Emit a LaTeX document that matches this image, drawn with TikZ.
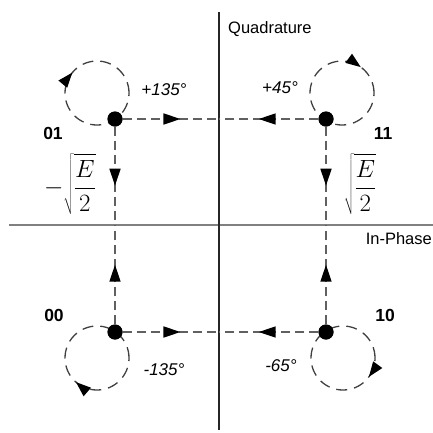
\documentclass[tikz,border=0pt]{standalone}
\usepackage{fontspec}
\setsansfont{Liberation Sans}
\usetikzlibrary{arrows.meta,decorations.markings}
\definecolor{axisgray}{HTML}{808080}
\definecolor{dashgray}{HTML}{606060}
\definecolor{loopgray}{HTML}{404040}
\tikzset{
  dotnode/.style={circle,fill=black,minimum size=15pt,inner sep=0pt},
  dline/.style={draw=dashgray,line width=1.6pt,dash pattern=on 9pt off 5pt,
    postaction={decorate},
    decoration={markings,mark=at position 0.6 with {\arrow[black]{Triangle[length=17pt,width=11pt]}}}},
  loopline/.style={draw=loopgray,line width=1.3pt,dash pattern=on 11pt off 7pt},
  lbl/.style={font=\sffamily\fontsize{16.5}{19}\selectfont,inner sep=0pt},
  ang/.style={font=\sffamily\itshape\fontsize{17}{20}\selectfont,inner sep=0pt},
  code/.style={font=\sffamily\bfseries\fontsize{17.5}{20}\selectfont,inner sep=0pt},
  frm/.style={font=\fontsize{24}{28}\selectfont,inner sep=0pt},
}
\newcommand{\looparrow}[2]{%
  \draw[loopline,postaction={decorate},
    decoration={markings,mark=at position #2 with {\arrowreversed[black]{Triangle[length=15pt,width=11pt]}}}]
    (#1) circle[radius=32pt];}
\begin{document}
\begin{tikzpicture}[x=1pt,y=-1pt]
\useasboundingbox (0,0) rectangle (433,432);
% axes
\coordinate (qtop) at (219,12);
\coordinate (qbot) at (219,430);
\coordinate (ileft) at (9,225);
\coordinate (iright) at (433,225);
\draw[axisgray,line width=2pt] (ileft) -- (iright);
\draw[black!85,line width=1.3pt] (qtop) -- (qbot);
% points
\node[dotnode] (d01) at (115,119) {};
\node[dotnode] (d11) at (326,119) {};
\node[dotnode] (d00) at (115,332) {};
\node[dotnode] (d10) at (326,332) {};
% crossing coordinates
\coordinate (xt) at (219,119);
\coordinate (xb) at (219,332);
\coordinate (yl) at (115,225);
\coordinate (yr) at (326,225);
% dashed transitions
\draw[dline] (d01) -- (xt);
\draw[dline] (d11) -- (xt);
\draw[dline] (d00) -- (xb);
\draw[dline] (d10) -- (xb);
\draw[dline] (d01) -- (yl);
\draw[dline] (d11) -- (yr);
\draw[dline] (d00) -- (yl);
\draw[dline] (d10) -- (yr);
% loops
\coordinate (c01) at (97,93);
\coordinate (c11) at (342,93);
\coordinate (c00) at (97,358);
\coordinate (c10) at (343,358);
\looparrow{c01}{0.39}
\looparrow{c11}{0.15}
\looparrow{c00}{0.636}
\looparrow{c10}{0.9}
% redraw dots on top
\node[dotnode] at (d01) {};
\node[dotnode] at (d11) {};
\node[dotnode] at (d00) {};
\node[dotnode] at (d10) {};
% labels
\node[lbl,anchor=west] (tq) at (228,29) {Quadrature};
\node[lbl,anchor=east] (ti) at (432,239) {In-Phase};
\node[ang] (a01) at (164,90) {+135°};
\node[ang] (a11) at (280,88) {+45°};
\node[ang] (a00) at (164,370) {-135°};
\node[ang] (a10) at (281,366) {-65°};
\node[code] (l01) at (53,133) {01};
\node[code] (l11) at (383,133) {11};
\node[code] (l00) at (54,315) {00};
\node[code] (l10) at (385,315) {10};
\node[frm] (fl) at (70,184) {$\displaystyle -\sqrt{\frac{E}{2}}$};
\node[frm] (fr) at (360,184) {$\displaystyle \sqrt{\frac{E}{2}}$};
\end{tikzpicture}
\end{document}
